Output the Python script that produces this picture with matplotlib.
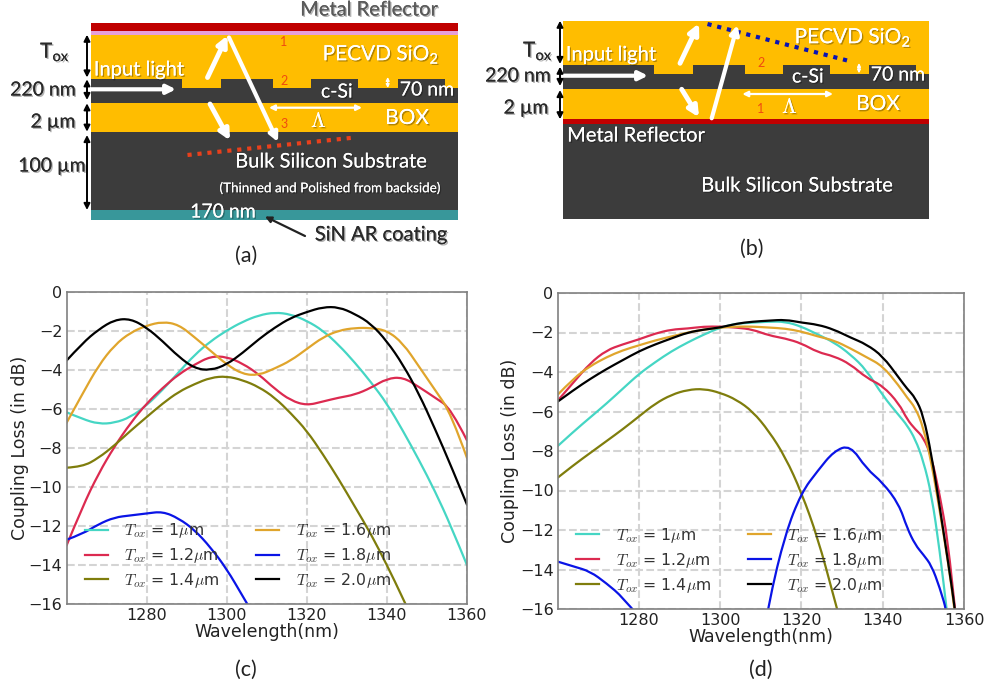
"""Grating coupler schematics and coupling loss spectra."""

from __future__ import annotations

import matplotlib

matplotlib.use("Agg")
import matplotlib.patheffects as pe
import matplotlib.pyplot as plt
import numpy as np
from matplotlib.lines import Line2D
from matplotlib.patches import PathPatch, Polygon, Rectangle
from matplotlib.path import Path

nan = float("nan")

wl_c = list(range(1260, 1361, 4))
c_10 = [-6.15, -6.5, -6.75, -6.7, -6.4, -5.8, -5.0, -4.1, -3.2, -2.5, -1.95, -1.5, -1.17,
        -1.02, -1.12, -1.45, -1.95, -2.7, -3.6, -4.6, -5.7, -7.1, -8.6, -10.2, -12.0, -14.0]
c_12 = [-13.0, -11.0, -9.3, -7.9, -6.7, -5.7, -4.9, -4.2, -3.7, -3.28, -3.3, -3.65, -4.2,
        -4.95, -5.55, -5.8, -5.6, -5.4, -5.25, -4.9, -4.42, -4.35, -4.85, -5.4, -5.95, -7.6]
c_14 = [-9.0, -8.95, -8.5, -7.85, -7.1, -6.4, -5.7, -5.1, -4.7, -4.37, -4.3, -4.5, -4.85,
        -5.4, -6.2, -7.1, -8.3, -9.6, -11.0, -12.4, -14.0, -15.7, -17.5, nan, nan, nan]
c_16 = [-6.7, -5.2, -3.75, -2.7, -2.05, -1.7, -1.5, -1.65, -2.3, -3.0, -3.7, -4.2, -4.25,
        -3.9, -3.5, -2.9, -2.3, -1.95, -1.82, -1.82, -1.95, -2.6, -3.8, -5.0, -6.2, -8.5]
c_18 = [-12.7, -12.4, -11.9, -11.55, -11.45, -11.35, -11.25, -11.6, -12.2, -13.1, -14.2,
        -15.6, -17.0, nan, nan, nan, nan, nan, nan, nan, nan, nan, nan, nan, nan, nan]
c_20 = [-3.5, -2.6, -1.9, -1.4, -1.35, -1.8, -2.5, -3.3, -3.9, -4.0, -3.7, -3.1, -2.4,
        -1.8, -1.3, -1.0, -0.75, -0.75, -1.1, -1.6, -2.5, -3.7, -5.2, -7.0, -8.9, -10.9]

wl_d = list(range(1260, 1345, 4)) + [1346, 1348, 1350, 1352, 1354, 1356, 1358, 1360]
d_10 = [-7.75, -7.0, -6.3, -5.6, -4.85, -4.1, -3.5, -2.95, -2.5, -2.1, -1.75, -1.55, -1.5, -1.45,
        -1.45, -1.7, -2.1, -2.5, -3.1, -3.9, -5.2, -6.2, -6.7, -7.4, -8.5, -10.2, -13.0, -16.5,
        -20.0, nan]
d_12 = [-5.45, -4.5, -3.55, -2.9, -2.6, -2.35, -2.05, -1.85, -1.8, -1.7, -1.7, -1.75, -1.85, -2.15,
        -2.3, -2.55, -3.0, -3.2, -3.6, -4.3, -4.7, -5.6, -6.4, -6.9, -7.3, -8.3, -10.2, -12.5,
        -16.5, -20.0]
d_14 = [-9.35, -8.7, -8.1, -7.5, -6.9, -6.25, -5.6, -5.15, -4.9, -4.85, -5.05, -5.4, -6.0, -7.0,
        -8.3, -10.1, -12.4, -15.4, -18.5, nan, nan, nan, nan, nan, nan, nan, nan, nan, nan, nan]
d_16 = [-5.15, -4.3, -3.7, -3.25, -2.9, -2.65, -2.4, -2.2, -2.0, -1.85, -1.75, -1.7, -1.7, -1.75,
        -1.8, -1.95, -2.2, -2.4, -2.8, -3.25, -3.7, -4.7, -5.3, -5.8, -6.8, -8.6, -11.0, -13.5,
        -16.5, -20.0]
d_18 = [-13.6, -13.85, -14.1, -14.7, -15.4, -16.4, nan, nan, nan, nan, nan, nan, -20.0, -15.6,
        -12.2, -10.1, -9.0, -8.0, -7.7, -8.9, -9.6, -10.7, -11.9, -12.75, -13.25, -13.8, -14.9,
        -16.3, -19.0, nan]
d_20 = [-5.5, -4.9, -4.35, -3.85, -3.4, -2.95, -2.6, -2.3, -2.0, -1.85, -1.75, -1.55, -1.45, -1.4,
        -1.35, -1.5, -1.6, -1.85, -2.25, -2.6, -3.2, -4.3, -4.85, -5.3, -6.2, -8.2, -10.8, -13.5,
        -16.3, -20.0]

labels = [
    r"$T_{ox}$ = 1$\mu$m",
    r"$T_{ox}$ = 1.2$\mu$m",
    r"$T_{ox}$ = 1.4$\mu$m",
    r"$T_{ox}$ = 1.6$\mu$m",
    r"$T_{ox}$ = 1.8$\mu$m",
    r"$T_{ox}$ = 2.0$\mu$m",
]
colors = ["#45d6c4", "#dc2a50", "#7f7d0c", "#e0a52c", "#0a14e6", "#000000"]
x_ticks = [1280, 1300, 1320, 1340, 1360]
y_ticks = [0, -2, -4, -6, -8, -10, -12, -14, -16]

DARK = "#3c3c3c"
OXIDE = "#ffbd00"
METAL = "#c00000"
FIG_W, FIG_H = 990, 688


def shadow(alpha: float = 0.3) -> list:
    """Soft drop shadow used on the slide text."""
    return [pe.withSimplePatchShadow(offset=(1, -1), shadow_rgbFace="#000000", alpha=alpha),
            pe.Normal()]


def label(ax, x, y, text, size=14.5, color="white", **kw) -> None:
    """Slide style text, centred on a pixel position."""
    kw.setdefault("math_fontfamily", "custom")
    ax.text(x, y, text, fontsize=size, color=color, family="Lato", ha="center",
            va="center", path_effects=shadow(), zorder=6, **kw)


def arrow(ax, p0, p1, color="white", lw=3.0, style="-|>", scale=13) -> None:
    """Arrow between two pixel positions."""
    ax.annotate("", xy=p1, xytext=p0, zorder=5,
                arrowprops=dict(arrowstyle=style, color=color, lw=lw, mutation_scale=scale,
                                shrinkA=0, shrinkB=0))


def layer(ax, x0, x1, y0, y1, color, z=1) -> None:
    """Flat layer of the stack."""
    ax.add_patch(Rectangle((x0, y0), x1 - x0, y1 - y0, fc=color, ec="none", zorder=z))


def grating(ax, edges, right, y_top, y_etch, y_bot) -> None:
    """Silicon slab with etched teeth, edges are the left and right sides of the teeth."""
    pts = [(edges[0], y_bot), (edges[0], y_top)]
    for i in range(0, len(edges), 2):
        if i > 0:
            pts += [(edges[i], y_etch), (edges[i], y_top)]
        pts += [(edges[i + 1], y_top), (edges[i + 1], y_etch)]
    pts += [(right, y_etch), (right, y_bot)]
    ax.add_patch(Polygon(pts, closed=True, fc=DARK, ec="none", zorder=2))


def draw_schematic_a(ax) -> None:
    left, right = 90.7, 458.3
    layer(ax, left, right, 22.7, 31, METAL)
    layer(ax, left, right, 31, 34.7, "#e6a0d8")
    layer(ax, left, right, 34.7, 132, OXIDE)
    layer(ax, left, right, 132, 210.3, DARK)
    layer(ax, left, right, 210.3, 219.5, "#38979a")
    grating(ax, [left, 182, 221, 272.7, 311.3, 358.3, 397.7, 445], right, 79.3, 88, 103.3)

    arrow(ax, (90.7, 89.3), (176, 89.3), lw=3.0)
    arrow(ax, (207.5, 77.5), (227.5, 35.5), lw=3.5, scale=15)
    arrow(ax, (229, 37.5), (278, 142), lw=3.0)
    arrow(ax, (210, 104), (230, 140.5), lw=3.5, scale=15)
    arrow(ax, (269, 107.7), (362, 107.7), lw=1.6, style="<|-|>", scale=8)
    arrow(ax, (387.7, 77), (387.7, 88), lw=1.0, style="<|-|>", scale=5)
    for y0, y1 in [(34.7, 77.5), (79.3, 100), (103.3, 131.7), (135, 210)]:
        arrow(ax, (87, y0), (87, y1), color="black", lw=1.4, style="<|-|>", scale=9)
    ax.plot([187.5, 355], [155, 137.5], color="#e8401c", lw=3.0, ls=(0, (1, 1.4)), zorder=4)
    arrow(ax, (305, 236), (265, 216.5), color="#222222", lw=1.6, style="-|>", scale=9)

    label(ax, 369, 10, "Metal Reflector", color="#5a5a5a")
    label(ax, 381, 54, r"PECVD SiO$_{\mathrm{2}}$", size=15)
    label(ax, 139, 70, "Input light")
    label(ax, 337, 92, "c-Si", size=14)
    label(ax, 427, 90, "70 nm", size=14)
    label(ax, 319, 121, r"$\Lambda$", size=15, math_fontfamily="cm")
    label(ax, 407, 118, "BOX", size=15)
    label(ax, 331, 162, "Bulk Silicon Substrate")
    label(ax, 331, 188, "(Thinned and Polished from backside)", size=9.7)
    label(ax, 223, 212, "170 nm", size=14)
    label(ax, 381, 235, "SiN AR coating", color="#2a2a2a")
    label(ax, 55, 52, r"T$_{\mathrm{ox}}$", size=15, color="#2a2a2a")
    label(ax, 43, 90, "220 nm", size=14, color="#2a2a2a")
    label(ax, 53, 122, "2 µm", size=14, color="#2a2a2a")
    label(ax, 52, 166, "100 µm", size=14, color="#2a2a2a")
    for x, y, s in [(284, 42, "1"), (284, 81, "2"), (284, 124, "3")]:
        ax.text(x, y, s, fontsize=9, color="#f04a10", family="Lato", ha="center", va="center",
                zorder=6)


def draw_schematic_b(ax) -> None:
    left, right = 563.3, 929.3
    layer(ax, left, right, 20.7, 119.3, OXIDE)
    layer(ax, left, right, 119.3, 124, METAL)
    layer(ax, left, right, 124, 219.3, DARK)
    grating(ax, [left, 654.3, 693, 744.7, 783.3, 829.7, 868.7, 915.7], right, 65.3, 74, 88.7)

    arrow(ax, (563.3, 75.7), (648, 75.7), lw=3.0)
    arrow(ax, (680, 63.3), (699, 23.3), lw=3.5, scale=15)
    arrow(ax, (711.7, 118.3), (737.5, 25), lw=3.0)
    arrow(ax, (681.7, 89.3), (699, 117.3), lw=3.5, scale=15)
    arrow(ax, (742.3, 94), (833, 94), lw=1.6, style="<|-|>", scale=8)
    arrow(ax, (859, 63), (859, 73.3), lw=1.0, style="<|-|>", scale=5)
    for y0, y1 in [(20.7, 64), (66.7, 86), (90, 119.3)]:
        arrow(ax, (560, y0), (560, y1), color="black", lw=1.4, style="<|-|>", scale=9)
    ax.plot([707.5, 848], [24, 60.7], color="#0a14b4", lw=3.0, ls=(0, (1, 1.4)), zorder=4)

    label(ax, 853, 37, r"PECVD SiO$_{\mathrm{2}}$", size=15)
    label(ax, 611, 55, "Input light")
    label(ax, 808, 77, "c-Si", size=14)
    label(ax, 898, 75, "70 nm", size=14)
    label(ax, 790, 107, r"$\Lambda$", size=15, math_fontfamily="cm")
    label(ax, 878, 104, "BOX", size=15)
    label(ax, 636, 136, "Metal Reflector")
    label(ax, 797, 186, "Bulk Silicon Substrate")
    label(ax, 538, 51, r"T$_{\mathrm{ox}}$", size=15, color="#2a2a2a")
    label(ax, 518, 76, "220 nm", size=14, color="#2a2a2a")
    label(ax, 526, 108, "2 µm", size=14, color="#2a2a2a")
    for x, y, s in [(761, 63, "2"), (761, 109, "1")]:
        ax.text(x, y, s, fontsize=9, color="#f04a10", family="Lato", ha="center", va="center",
                zorder=6)


def smooth_curve(ax, wl, values, color) -> None:
    """Draw the read values as a quadratic spline, each value a control point."""
    wl = np.array(wl, dtype=float)
    values = np.array(values, dtype=float)
    good = ~np.isnan(values)
    edges = np.flatnonzero(np.diff(np.r_[0, good.astype(int), 0]))
    for i0, i1 in zip(edges[::2], edges[1::2]):
        pts = np.column_stack([wl[i0:i1], values[i0:i1]])
        verts, codes = [pts[0]], [Path.MOVETO]
        for k in range(1, len(pts) - 1):
            end = pts[k + 1] if k == len(pts) - 2 else (pts[k] + pts[k + 1]) / 2
            verts += [pts[k], end]
            codes += [Path.CURVE3, Path.CURVE3]
        ax.add_patch(PathPatch(Path(verts, codes), fc="none", ec=color, lw=1.6,
                               capstyle="round", joinstyle="round"))


def draw_spectrum(ax, wl, series, ylabel_pad) -> None:
    """Coupling loss panel with its legend."""
    for values, color in zip(series, colors):
        smooth_curve(ax, wl, values, color)
    ax.set_xlim(1260, 1360)
    ax.set_ylim(-16, 0)
    ax.set_xticks(x_ticks)
    ax.set_yticks(y_ticks)
    ax.set_yticklabels([f"{v}".replace("-", "\u2212") for v in y_ticks])
    ax.tick_params(direction="in", length=0, labelsize=11.5, pad=3, colors="#222222")
    ax.grid(True, color="#d4d4d4", ls="--", lw=1.5)
    ax.set_axisbelow(True)
    for spine in ax.spines.values():
        spine.set_color("#808080")
        spine.set_linewidth(1.2)
    ax.set_xlabel("Wavelength(nm)", fontsize=12.5, labelpad=0, color="#222222")
    ax.set_ylabel("Coupling Loss (in dB)", fontsize=12.5, labelpad=ylabel_pad, color="#222222")
    handles = [Line2D([], [], color=c, lw=1.6, label=n) for c, n in zip(colors, labels)]
    ax.legend(handles=handles, loc="lower left", bbox_to_anchor=(0.046, 0.045), ncol=2,
              frameon=False, fontsize=11.3, labelcolor="#333333", handlelength=1.45,
              columnspacing=2.35, labelspacing=0.38, handletextpad=1.05, borderpad=0,
              borderaxespad=0)


def axes_px(fig, x0, x1, y0, y1):
    """Axes from pixel edges, y measured from the top."""
    return fig.add_axes([x0 / FIG_W, 1 - y1 / FIG_H, (x1 - x0) / FIG_W, (y1 - y0) / FIG_H])


def main() -> None:
    plt.rcParams["mathtext.fontset"] = "cm"
    plt.rcParams["mathtext.rm"] = "Lato"
    fig = plt.figure(figsize=(FIG_W / 100, FIG_H / 100), dpi=100)

    bg = fig.add_axes([0, 0, 1, 1])
    bg.set_xlim(0, FIG_W)
    bg.set_ylim(FIG_H, 0)
    bg.axis("off")
    draw_schematic_a(bg)
    draw_schematic_b(bg)
    for x, y, s in [(246, 256, "(a)"), (752, 249, "(b)"), (246, 670, "(c)"), (761, 670, "(d)")]:
        bg.text(x, y, s, fontsize=15.5, family="Lato", color="#222222", ha="center", va="center")

    ax_c = axes_px(fig, 66.5, 467, 292.5, 604)
    draw_spectrum(ax_c, wl_c, [c_10, c_12, c_14, c_16, c_18, c_20], -0.5)
    ax_d = axes_px(fig, 557.7, 964, 293, 609)
    draw_spectrum(ax_d, wl_d, [d_10, d_12, d_14, d_16, d_18, d_20], 0.5)

    fig.savefig("out.png", dpi=100)


if __name__ == "__main__":
    main()
